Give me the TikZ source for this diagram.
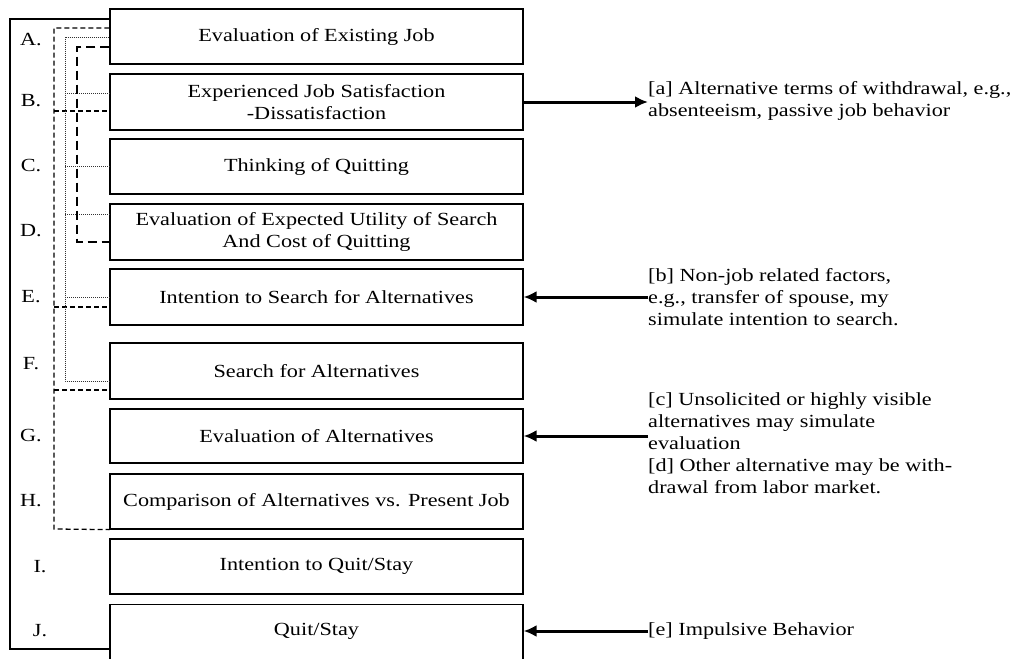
\documentclass[tikz,border=0pt]{standalone}
\usepackage{fontspec}
\setmainfont[FakeStretch=1.2]{Liberation Serif}
\usetikzlibrary{arrows.meta}
\begin{document}
\begin{tikzpicture}[x=1pt,y=-1pt,
  box/.style={draw, line width=1.2pt, minimum width=413pt, inner sep=0pt, align=center, font=\fontsize{18.5}{22}\selectfont},
  lbl/.style={inner sep=0pt, font=\fontsize{18.5}{22}\selectfont},
  note/.style={inner sep=0pt, anchor=west, align=left, font=\fontsize{18.5}{22}\selectfont},
  outer/.style={line width=1.2pt},
  dsh/.style={line width=1.3pt, dash pattern=on 5pt off 3pt},
  dtt/.style={line width=0.8pt, dash pattern=on 1pt off 1pt, black!80},
  ldsh/.style={line width=1.2pt, dash pattern=on 9pt off 5pt},
  arr/.style={line width=3pt, -{Latex[length=13pt,width=12pt]}}
]
\useasboundingbox (0,0) rectangle (1021,659);

\node[box, minimum height=55pt] (A) at (316.5,36.5) {Evaluation of Existing Job};
\node[box, minimum height=56pt] (B) at (316.5,102) {Experienced Job Satisfaction\\-Dissatisfaction};
\node[box, minimum height=55pt] (C) at (316.5,166.5) {Thinking of Quitting};
\node[box, minimum height=56pt] (D) at (316.5,232) {Evaluation of Expected Utility of Search\\And Cost of Quitting};
\node[box, minimum height=56pt] (E) at (316.5,297) {Intention to Search for Alternatives};
\node[box, minimum height=56pt] (F) at (316.5,371) {Search for Alternatives};
\node[box, minimum height=54pt] (G) at (316.5,436) {Evaluation of Alternatives};
\node[box, minimum height=55pt] (H) at (316.5,501.5) {Comparison of Alternatives vs. Present Job};
\node[box, minimum height=55pt] (I) at (316.5,566.5) {Intention to Quit/Stay};
\node[box, minimum height=80pt, anchor=north] (J) at (316.5,604) {};
\node[lbl] (Jt) at (316.5,631) {Quit/Stay};

% letters
\node[lbl] (lA) at (31,40) {A.};
\node[lbl] (lB) at (31,101) {B.};
\node[lbl] (lC) at (31,166) {C.};
\node[lbl] (lD) at (31,231) {D.};
\node[lbl] (lE) at (31,297) {E.};
\node[lbl] (lF) at (31,364) {F.};
\node[lbl] (lG) at (31,436) {G.};
\node[lbl] (lH) at (31,501) {H.};
\node[lbl] (lI) at (40,567) {I.};
\node[lbl] (lJ) at (40,631) {J.};

% outer solid bracket
\draw[outer] (A.west |- 0,19) -- (10,19) -- (10,649) -- (J.west |- 0,649);

% dashed bracket
\draw[dsh] (A.west |- 0,28) -- (54,28) -- (54,529) -- (H.south west);
\draw[dsh] (54,111) -- (B.west |- 0,111);
\draw[dsh] (54,307) -- (E.west |- 0,307);
\draw[dsh] (54,390) -- (F.west |- 0,390);

% dotted bracket
\draw[dtt] (A.west |- 0,37) -- (65,37) -- (65,381) -- (F.west |- 0,381);
\draw[dtt] (65,93) -- (B.west |- 0,93);
\draw[dtt] (65,166) -- (C.west |- 0,166);
\draw[dtt] (65,214) -- (D.west |- 0,214);
\draw[dtt] (65,297) -- (E.west |- 0,297);

% long-dash bracket
\draw[ldsh] (A.west |- 0,47) -- (77,47) -- (77,242) -- (D.west |- 0,242);

% notes
\node[note] (ta) at (648,101) {[a] Alternative terms of withdrawal, e.g.,\\absenteeism, passive job behavior};
\node[note] (tb) at (648,297) {[b] Non-job related factors,\\e.g., transfer of spouse, my\\simulate intention to search.};
\node[note, anchor=north west] (tc) at (648,392) {[c] Unsolicited or highly visible\\alternatives may simulate\\evaluation\\[0pt][d] Other alternative may be with-\\drawal from labor market.};
\node[note] (te) at (648,631) {[e] Impulsive Behavior};

\draw[arr] (B.east) -- (B.east -| ta.west);
\draw[arr] (tb.west) -- (E.east);
\draw[arr] (tc.west |- G.east) -- (G.east);
\draw[arr] (te.west) -- (te.west -| J.east);
\end{tikzpicture}
\end{document}
